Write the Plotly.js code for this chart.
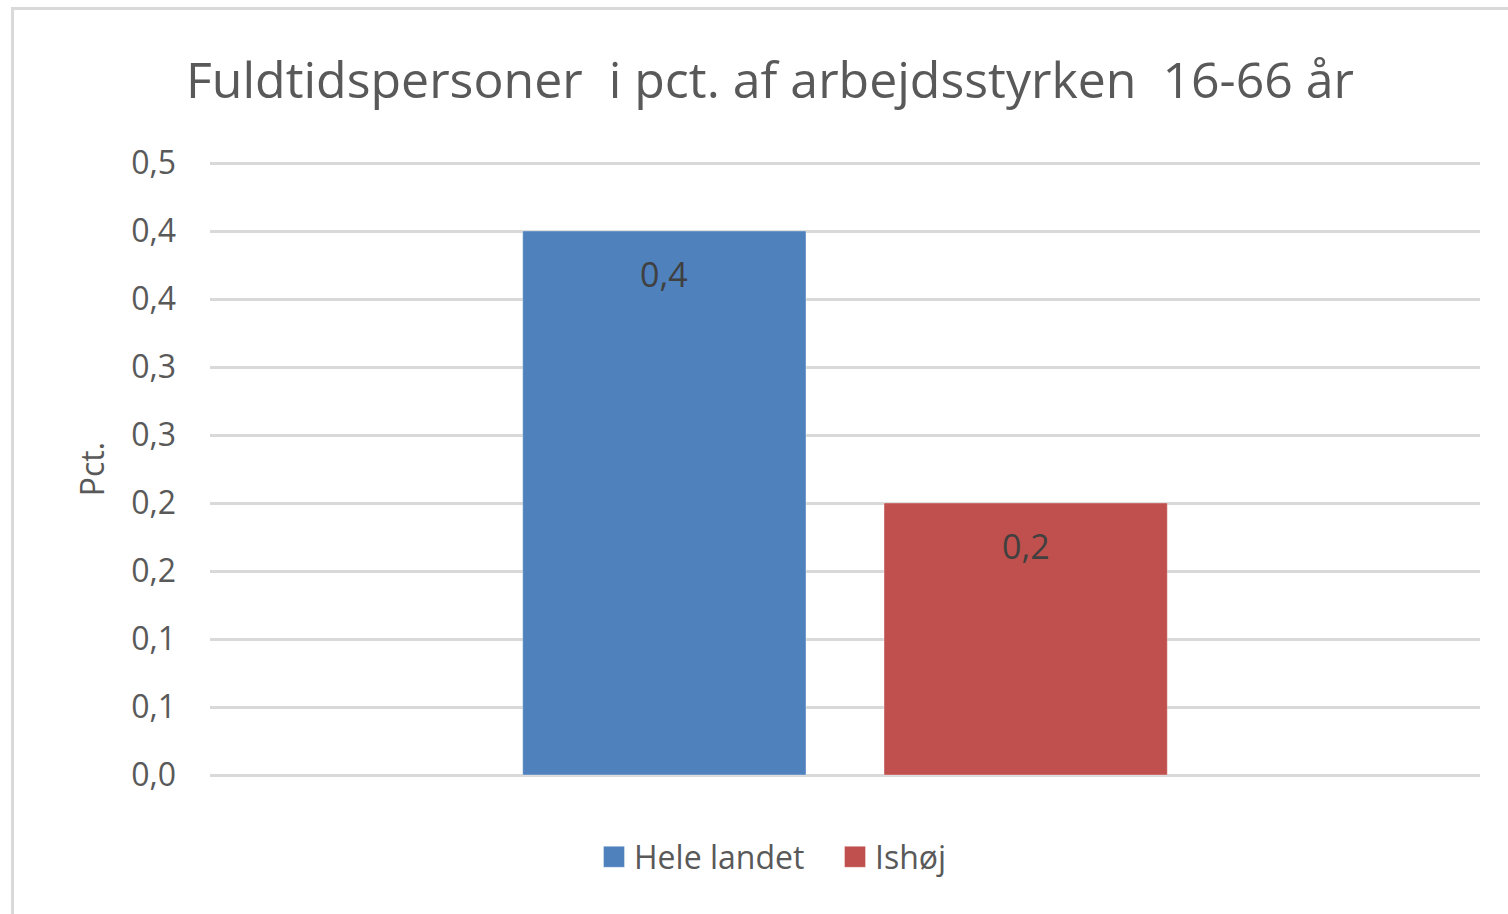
<!DOCTYPE html>
<html>
<head>
<meta charset="utf-8">
<script src="https://cdn.plot.ly/plotly-3.0.1.min.js"></script>
<style>
html,body{margin:0;padding:0;background:#fff;overflow:hidden;}
#chart{width:1508px;height:914px;}
#frame{position:absolute;left:11px;top:7px;width:1600px;height:1000px;border-left:3px solid #d9d9d9;border-top:3px solid #d9d9d9;pointer-events:none;}
</style>
</head>
<body>
<div id="chart"></div>
<div id="frame"></div>
<script>
const category = ['Fuldtidspersoner'];
const seriesNames = ['Hele landet', 'Ishøj'];
const seriesValues = [[0.4], [0.2]];
const seriesLabels = ['0,4', '0,2'];
const seriesColors = ['#4f81bd', '#c0504d'];
const tickValues = [0, 0.05, 0.1, 0.15, 0.2, 0.25, 0.3, 0.35, 0.4, 0.45];
const tickLabels = ['0,0', '0,1', '0,1', '0,2', '0,2', '0,3', '0,3', '0,4', '0,4', '0,5'];

const FONT = 'Open Sans, Noto Sans, sans-serif';
const W = 1508, H = 914;
// plot area is extended 3px above and below so the edge gridlines are drawn
const pad = 3;
const margin = {l: 210, r: 28, t: 163 - pad, b: 139 - pad};
const plotW = W - margin.l - margin.r;
const plotH = H - margin.t - margin.b;
const yTop = 0.45, yBottom = 0;
const unitPerPx = (yTop - yBottom) / (plotH - 2 * pad);
const bargap = 0.431, bargroupgap = 0.216;
const slot = plotW * (1 - bargap) / seriesNames.length;

const traces = seriesNames.map((name, i) => ({
  type: 'bar',
  name: name,
  x: category,
  y: seriesValues[i],
  marker: {color: seriesColors[i], line: {color: 'rgba(255,255,255,0.35)', width: 1}},
  hoverinfo: 'none'
}));

const annotations = seriesNames.map((name, i) => ({
  x: category[0],
  y: seriesValues[i][0],
  xref: 'x', yref: 'y',
  text: seriesLabels[i],
  showarrow: false,
  xshift: (i - (seriesNames.length - 1) / 2) * slot,
  yshift: -43,
  font: {family: FONT, size: 34, color: '#404040'}
}));

const layout = {
  width: W, height: H,
  margin: margin,
  paper_bgcolor: '#ffffff',
  plot_bgcolor: '#ffffff',
  barmode: 'group',
  bargap: bargap,
  bargroupgap: bargroupgap,
  showlegend: true,
  title: {
    text: 'Fuldtidspersoner  i pct. af arbejdsstyrken  16-66 år',
    font: {family: FONT, size: 50, color: '#595959'},
    xref: 'container', yref: 'container',
    x: 770 / W, xanchor: 'center',
    y: 1 - 80 / H, yanchor: 'middle'
  },
  xaxis: {
    showticklabels: false,
    showgrid: false,
    zeroline: false,
    showline: false,
    ticks: ''
  },
  yaxis: {
    range: [yBottom - pad * unitPerPx, yTop + pad * unitPerPx],
    tickvals: tickValues,
    ticktext: tickLabels,
    tickfont: {family: FONT, size: 32, color: '#595959'},
    showgrid: true,
    gridcolor: '#d9d9d9',
    gridwidth: 3,
    zeroline: false,
    showline: false,
    ticks: '',
    ticklabelstandoff: 33,
    title: {text: 'Pct.', font: {family: FONT, size: 32, color: '#595959'}, standoff: 16}
  },
  legend: {
    orientation: 'h',
    xref: 'container', yref: 'container',
    x: 594 / W, xanchor: 'left',
    y: 1 - 857 / H, yanchor: 'middle',
    font: {family: FONT, size: 32, color: '#595959'},
    itemwidth: 30,
    entrywidth: 196,
    traceorder: 'normal'
  },
  annotations: annotations
};

Plotly.newPlot('chart', traces, layout, {displayModeBar: false, staticPlot: true}).then(gd => {
  gd.querySelectorAll('.legend .legendpoints path').forEach(p => {
    p.setAttribute('d', 'M10.5,10.5H-10.5V-10.5H10.5Z');
  });
});
</script>
</body>
</html>
